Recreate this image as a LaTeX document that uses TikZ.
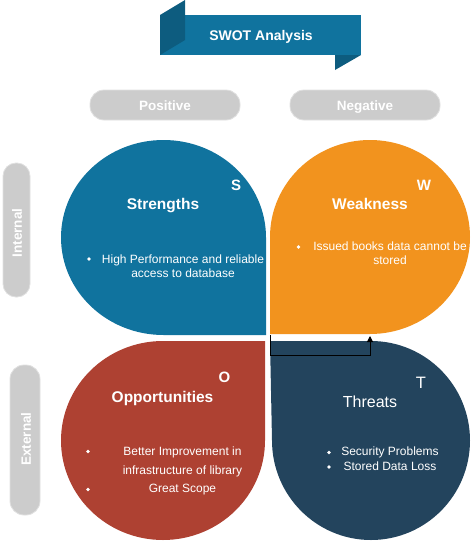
\documentclass[tikz,border=0pt]{standalone}
\usepackage{fontspec}
\setmainfont{Liberation Sans}
\usetikzlibrary{arrows.meta}
\definecolor{swotblue}{HTML}{10739E}
\definecolor{swotfold}{HTML}{0D5C7F}
\definecolor{swotorange}{HTML}{F2931E}
\definecolor{swotred}{HTML}{AE4132}
\definecolor{swotnavy}{HTML}{23445D}
\definecolor{pillgray}{HTML}{CCCCCC}
\begin{document}
\begin{tikzpicture}[x=1pt,y=-1pt,
  pill/.style={fill=pillgray, draw=pillgray!60!white, line width=0.8pt},
  pilltext/.style={text=white, font=\fontsize{13.5}{16}\selectfont\bfseries},
  heading/.style={text=white, font=\fontsize{15.5}{18}\selectfont\bfseries, anchor=base, inner sep=0pt},
  letter/.style={text=white, font=\fontsize{15}{18}\selectfont\bfseries, anchor=base, inner sep=0pt},
  item/.style={text=white, font=\fontsize{12}{14}\selectfont, align=center, inner sep=0pt},
  dot/.style={fill=white, circle, inner sep=0pt, minimum size=3.6pt}
]
\useasboundingbox (0,0) rectangle (471,541);

% title ribbon
\fill[swotblue] (160,15) rectangle (361,55);
\fill[swotfold] (160,15) -- (185,0) -- (185,40) -- (160,55) -- cycle;
\fill[swotfold] (335,55) -- (361,55) -- (335,70) -- cycle;
\node[text=white, font=\fontsize{14}{17}\selectfont\bfseries, anchor=base, inner sep=0pt] (title) at (261,40) {SWOT Analysis};

% column and row labels
\draw[pill, rounded corners=14pt] (90,90) rectangle (240,120);
\node[pilltext, anchor=base, inner sep=0pt] (positive) at (165,110.5) {Positive};
\draw[pill, rounded corners=14pt] (290,90) rectangle (440,120);
\node[pilltext, anchor=base, inner sep=0pt] (negative) at (365,110.5) {Negative};
\draw[pill, rounded corners=13pt] (3,163) rectangle (30,297);
\node[pilltext, rotate=90] (internal) at (17,233) {Internal};
\draw[pill, rounded corners=14pt] (10,365) rectangle (40,515);
\node[pilltext, rotate=90] (external) at (26,439) {External};

% quadrant petals
\fill[swotblue] (266,335) -- (163.5,335)
  arc[start angle=90, end angle=180, x radius=102.5, y radius=97.5]
  arc[start angle=180, end angle=270, x radius=102.5, y radius=97.5]
  arc[start angle=270, end angle=360, x radius=102.5, y radius=97.5] -- cycle;
\fill[swotorange] (270,334) -- (270,237)
  arc[start angle=180, end angle=270, x radius=100, y radius=97]
  arc[start angle=270, end angle=360, x radius=100, y radius=97]
  arc[start angle=0, end angle=90, x radius=100, y radius=97] -- cycle;
\fill[swotred] (265,341) -- (265,440.5)
  arc[start angle=0, end angle=90, x radius=102, y radius=99.5]
  arc[start angle=90, end angle=180, x radius=102, y radius=99.5]
  arc[start angle=180, end angle=270, x radius=102, y radius=99.5] -- cycle;
\fill[swotnavy] (270,341) -- (371,341)
  arc[start angle=270, end angle=360, x radius=99, y radius=99.5]
  arc[start angle=0, end angle=90, x radius=99, y radius=99.5]
  arc[start angle=90, end angle=180, x radius=99, y radius=99.5] -- cycle;

% Strengths
\node[heading] (strengths) at (163,209) {Strengths};
\node[letter] (s) at (236,190) {S};
\node[dot] (sdot) at (89,259) {};
\node[item] (sitem) at (183,266.5) {High Performance and reliable\\access to database};

% Weakness
\node[heading] (weakness) at (370,209) {Weakness};
\node[letter] (w) at (424,190) {W};
\node[dot] (wdot) at (298.5,247) {};
\node[item] (witem) at (390,253) {Issued books data cannot be\\stored};

% Opportunities
\node[heading] (opportunities) at (162.5,402) {Opportunities};
\node[letter] (o) at (224.5,382.5) {O};
\node[dot] (odot1) at (88,451.5) {};
\node[dot] (odot2) at (88,489.5) {};
\node[item] (oitem1) at (182.5,452) {Better Improvement in};
\node[item] (oitem2) at (182.5,471) {infrastructure of library};
\node[item] (oitem3) at (182.5,490) {Great Scope};

% Threats
\node[text=white, font=\fontsize{16}{19}\selectfont, anchor=base, inner sep=0pt] (threats) at (370,407.5) {Threats};
\node[text=white, font=\fontsize{16.5}{19}\selectfont, anchor=base, inner sep=0pt] (t) at (421,388) {T};
\node[dot] (tdot1) at (329,452.5) {};
\node[dot] (tdot2) at (329,467) {};
\node[item] (titem1) at (390,452.5) {Security Problems};
\node[item] (titem2) at (390,466.5) {Stored Data Loss};

% connector below the Weakness petal
\coordinate (wkcorner) at (270,335);
\coordinate (wkbend) at (370,355);
\coordinate (wkbottom) at (370,336);
\draw[line width=1pt, -{Triangle[length=6pt,width=6pt]}] (wkcorner) |- (wkbend) -- (wkbottom);
\end{tikzpicture}
\end{document}
